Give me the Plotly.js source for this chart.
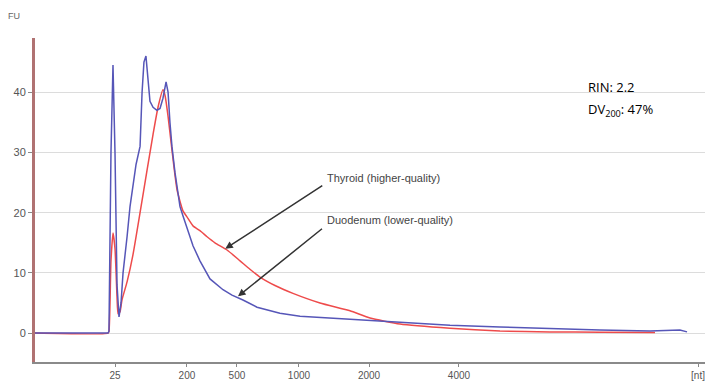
<!DOCTYPE html>
<html>
<head>
<meta charset="utf-8">
<script src="https://cdn.plot.ly/plotly-3.0.1.min.js"></script>
<style>html,body{margin:0;padding:0;background:#fff;}#chart{width:708px;height:382px;}</style>
</head>
<body>
<div id="chart"></div>
<script>
// Migration time (s) and fluorescence (FU)
const duodenumTime = [20.00, 25.45, 25.52, 25.67, 25.82, 25.97, 26.12, 26.27, 26.42, 26.57, 26.87, 27.09, 27.54, 27.84, 27.99, 28.13, 28.28, 28.43, 28.58, 28.81, 29.10, 29.33, 29.55, 29.78, 29.93, 30.07, 30.22, 30.45, 30.82, 31.04, 31.57, 31.79, 32.31, 33.06, 34.03, 34.70, 35.52, 36.57, 38.28, 39.78, 43.51, 47.24, 50.97, 54.70, 58.43, 62.16, 65.90, 68.13, 68.66];
const duodenumFU   = [0, 0, 0.3, 30, 44.5, 30, 8, 2.7, 5, 10, 16, 21, 28, 31, 40, 45, 46, 42, 38.5, 37.5, 37, 37.3, 39, 41.7, 40, 35, 31, 26.6, 21, 19.5, 16, 14.5, 12, 9, 7.2, 6.3, 5.5, 4.3, 3.3, 2.8, 2.3, 1.8, 1.3, 1.0, 0.7, 0.5, 0.35, 0.5, 0.2];

const thyroidTime = [20.00, 25.45, 25.52, 25.67, 25.82, 25.97, 26.12, 26.20, 26.34, 26.49, 26.87, 27.31, 27.84, 28.36, 28.81, 29.18, 29.55, 29.70, 29.93, 30.22, 30.60, 31.04, 31.34, 31.79, 32.31, 32.84, 33.43, 34.33, 35.30, 36.04, 36.79, 37.91, 39.25, 41.27, 43.51, 45.00, 47.24, 50.97, 54.70, 58.43, 62.16, 66.27];
const thyroidFU   = [0, 0, 0.3, 12, 16.6, 14, 6, 3.2, 3.5, 5.5, 8.5, 13, 20, 27, 33, 37.5, 40.4, 39.5, 36, 30.4, 23.8, 20.3, 19.3, 17.8, 17, 16, 15, 13.8, 12, 10.6, 9.3, 7.9, 6.6, 5, 3.7, 2.5, 1.5, 0.8, 0.35, 0.2, 0.15, 0.1];

const xTickVals = [25.97, 31.34, 35.07, 39.70, 44.93, 51.64, 69.48];
const xTickText = ['25', '200', '500', '1000', '2000', '4000', '[nt]'];
const yTickVals = [0, 10, 20, 30, 40];

const traces = [
  {x: thyroidTime, y: thyroidFU, mode: 'lines', name: 'Thyroid (higher-quality)',
   line: {color: '#ee4b4b', width: 1.5, shape: 'spline', smoothing: 0.5}, hoverinfo: 'skip'},
  {x: duodenumTime, y: duodenumFU, mode: 'lines', name: 'Duodenum (lower-quality)',
   line: {color: '#5656b8', width: 1.5}, hoverinfo: 'skip'}
];

const layout = {
  width: 708, height: 382,
  margin: {l: 35, r: 3, t: 38, b: 20},
  paper_bgcolor: '#ffffff', plot_bgcolor: '#ffffff',
  showlegend: false,
  font: {family: 'Liberation Sans, Arial, sans-serif', color: '#555', size: 11},
  xaxis: {
    range: [20, 70], tickvals: xTickVals, ticktext: xTickText,
    showgrid: false, zeroline: false, showline: true, linecolor: '#8a8a8a', linewidth: 1.5,
    ticks: 'outside', ticklen: 3, tickcolor: '#888', tickfont: {size: 10, color: '#555'}
  },
  yaxis: {
    range: [-4.8, 49], tickvals: yTickVals,
    showgrid: true, gridcolor: '#dcdcdc', gridwidth: 1, zeroline: false,
    showline: true, linecolor: '#b07272', linewidth: 3,
    ticks: 'outside', ticklen: 4, tickcolor: '#888', tickfont: {size: 11, color: '#555'}
  },
  annotations: [
    {xref: 'paper', yref: 'paper', x: -0.031, y: 1.068, xanchor: 'center', yanchor: 'middle',
     text: 'FU', showarrow: false, font: {size: 9, color: '#666'}},
    {x: 34.20, y: 14.0, xref: 'x', yref: 'y', text: ' ', showarrow: true,
     ax: 100, ay: -65, arrowhead: 2, arrowsize: 1, arrowwidth: 1.5, arrowcolor: '#333'},
    {x: 35.15, y: 6.1, xref: 'x', yref: 'y', text: ' ', showarrow: true,
     ax: 87, ay: -70, arrowhead: 2, arrowsize: 1, arrowwidth: 1.5, arrowcolor: '#333'},
    {x: 41.65, y: 25.8, xref: 'x', yref: 'y', xanchor: 'left', yanchor: 'middle',
     text: 'Thyroid (higher-quality)', showarrow: false, font: {size: 11, color: '#444'}},
    {x: 41.65, y: 18.8, xref: 'x', yref: 'y', xanchor: 'left', yanchor: 'middle',
     text: 'Duodenum (lower-quality)', showarrow: false, font: {size: 11, color: '#444'}},
    {x: 61.1, y: 40.9, xref: 'x', yref: 'y', xanchor: 'left', yanchor: 'middle',
     text: 'RIN: 2.2', showarrow: false, font: {family: 'Open Sans, sans-serif', size: 13, color: '#000'}},
    {x: 61.1, y: 37.0, xref: 'x', yref: 'y', xanchor: 'left', yanchor: 'middle',
     text: 'DV<sub>200</sub>: 47%', showarrow: false, font: {family: 'Open Sans, sans-serif', size: 13, color: '#000'}}
  ]
};

Plotly.newPlot('chart', traces, layout, {staticPlot: true, displayModeBar: false});
</script>
</body>
</html>
